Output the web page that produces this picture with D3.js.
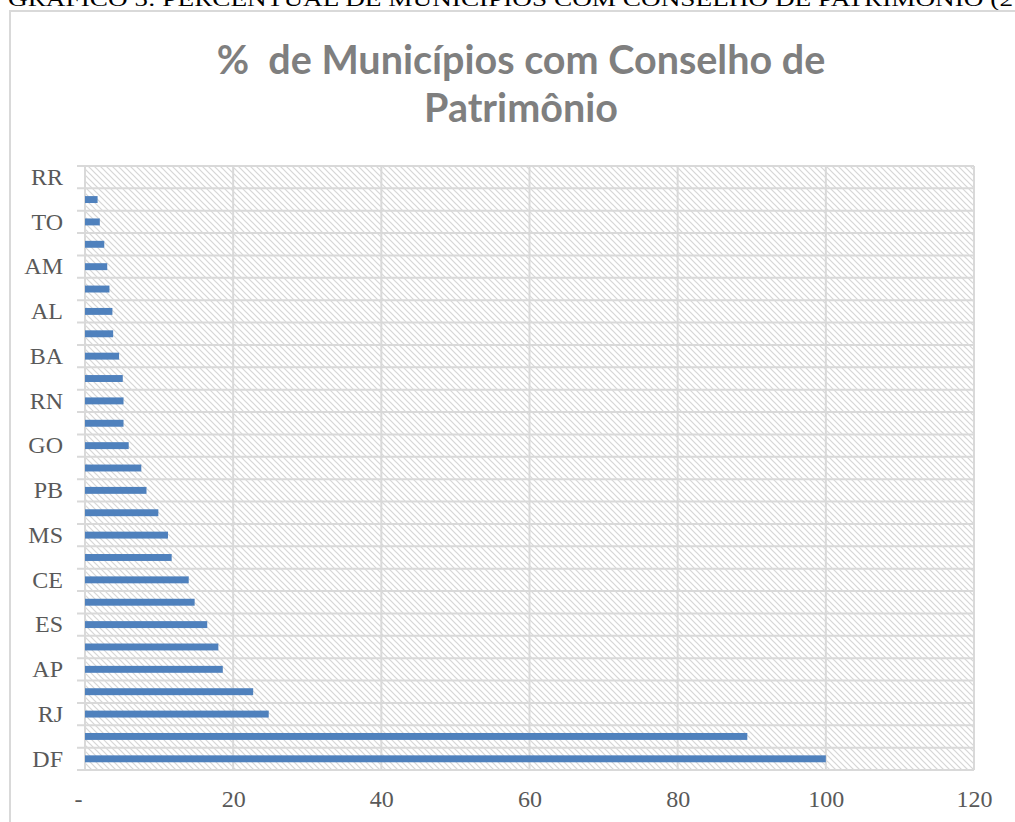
<!DOCTYPE html>
<html>
<head>
<meta charset="utf-8">
<script src="https://cdn.jsdelivr.net/npm/d3@7"></script>
<style>
  body { margin: 0; background: #fff; }
  svg { display: block; }
</style>
</head>
<body>
<div id="chart"></div>
<script>
// states, bottom of the chart first (Excel order)
var states = ["DF", "MG", "RJ", "SP", "AP", "PR", "ES", "SC", "CE", "RS",
              "MS", "PE", "PB", "MT", "GO", "SE", "RN", "AC", "BA", "PA",
              "AL", "PI", "AM", "MA", "TO", "RO", "RR"];
var percents = [100, 89.4, 24.8, 22.7, 18.6, 18.0, 16.5, 14.8, 14.0, 11.7,
                11.2, 9.9, 8.3, 7.6, 5.9, 5.2, 5.2, 5.1, 4.6, 3.8,
                3.7, 3.3, 3.0, 2.6, 2.0, 1.7, 0];
var xTicks = [0, 20, 40, 60, 80, 100, 120];
var titleLines = ["%  de Municípios com Conselho de", "Patrimônio"];
var caption = "GRÁFICO 5: PERCENTUAL DE MUNICÍPIOS COM CONSELHO DE PATRIMÔNIO (2";

var data = states.map(function(s, i) { return { state: s, value: percents[i] }; });

var W = 1015, H = 822;
var plot = { left: 85, right: 974, top: 166, bottom: 770 };
var grid = "#d9d9d9";

var svg = d3.select("#chart").append("svg")
    .attr("width", W)
    .attr("height", H);

// hatch for the plot area
var pat = svg.append("defs").append("pattern")
    .attr("id", "hatch")
    .attr("patternUnits", "userSpaceOnUse")
    .attr("width", 6)
    .attr("height", 6);
pat.append("rect").attr("width", 6).attr("height", 6).attr("fill", "#fff");
pat.append("path")
    .attr("d", "M0,0 L6,6 M-1,5 L1,7 M5,-1 L7,1")
    .attr("stroke", "#d6d6d6")
    .attr("stroke-width", 1.2);

// caption of the document, cut at the top like in the scan
svg.append("text")
    .attr("x", 8)
    .attr("y", 6)
    .attr("textLength", 1005)
    .attr("lengthAdjust", "spacingAndGlyphs")
    .style("font-family", "'Liberation Serif', serif")
    .style("font-size", "22px")
    .style("fill", "#000")
    .text(caption);

// chart frame
svg.append("rect")
    .attr("x", 10)
    .attr("y", 11)
    .attr("width", W + 20)
    .attr("height", H + 20)
    .attr("fill", "none")
    .attr("stroke", grid)
    .attr("stroke-width", 2);

// title (keep the double space after %)
var title = svg.append("g")
    .style("font-family", "Lato, 'Open Sans', sans-serif")
    .style("font-weight", "bold")
    .style("fill", "#7f7f7f");
title.selectAll("text")
    .data(titleLines)
  .enter().append("text")
    .attr("xml:space", "preserve")
    .attr("x", 521)
    .attr("y", function(d, i) { return 74 + i * 48; })
    .attr("text-anchor", "middle")
    .style("font-size", "39.5px")
    .text(function(d) { return d; });

var x = d3.scaleLinear().domain([0, 120]).range([plot.left, plot.right]);

var y = d3.scaleBand()
    .domain(states)
    .range([plot.bottom, plot.top])
    .paddingInner(0.69)
    .paddingOuter(0.345);

svg.append("rect")
    .attr("x", plot.left)
    .attr("y", plot.top)
    .attr("width", plot.right - plot.left)
    .attr("height", plot.bottom - plot.top)
    .attr("fill", "url(#hatch)");

// horizontal lines between categories
var step = y.step();
var bounds = d3.range(states.length + 1).map(function(i) { return plot.bottom - i * step; });
svg.append("g").selectAll("line")
    .data(bounds)
  .enter().append("line")
    .attr("x1", plot.left - 8)
    .attr("x2", plot.right)
    .attr("y1", function(d) { return d; })
    .attr("y2", function(d) { return d; })
    .attr("stroke", grid)
    .attr("stroke-width", 2);

// vertical gridlines
svg.append("g").selectAll("line")
    .data(xTicks)
  .enter().append("line")
    .attr("x1", function(d) { return x(d); })
    .attr("x2", function(d) { return x(d); })
    .attr("y1", plot.top)
    .attr("y2", plot.bottom)
    .attr("stroke", grid)
    .attr("stroke-width", 2);

// bars
svg.selectAll(".bar")
    .data(data)
  .enter().append("rect")
    .attr("class", "bar")
    .attr("x", x(0))
    .attr("y", function(d) { return y(d.state); })
    .attr("width", function(d) { return x(d.value) - x(0); })
    .attr("height", y.bandwidth())
    .style("fill", "#4f81bd");

// axes
var yAxis = d3.axisLeft(y)
    .tickValues(states.filter(function(d, i) { return i % 2 === 0; }))
    .tickSize(0)
    .tickPadding(22);

var xAxis = d3.axisBottom(x)
    .tickValues(xTicks)
    .tickSize(0)
    .tickPadding(20)
    .tickFormat(function(d) { return d === 0 ? "-" : d; });

var gy = svg.append("g")
    .attr("transform", "translate(" + plot.left + ",0)")
    .call(yAxis);

var gx = svg.append("g")
    .attr("transform", "translate(0," + plot.bottom + ")")
    .call(xAxis);

[gx, gy].forEach(function(g) {
  g.select(".domain").remove();
  g.selectAll("text")
      .style("font-family", "'Liberation Serif', serif")
      .style("font-size", "24px")
      .style("fill", "#595959");
});
gx.selectAll(".tick text").filter(function(d) { return d === 0; }).attr("dx", -7);
</script>
</body>
</html>
